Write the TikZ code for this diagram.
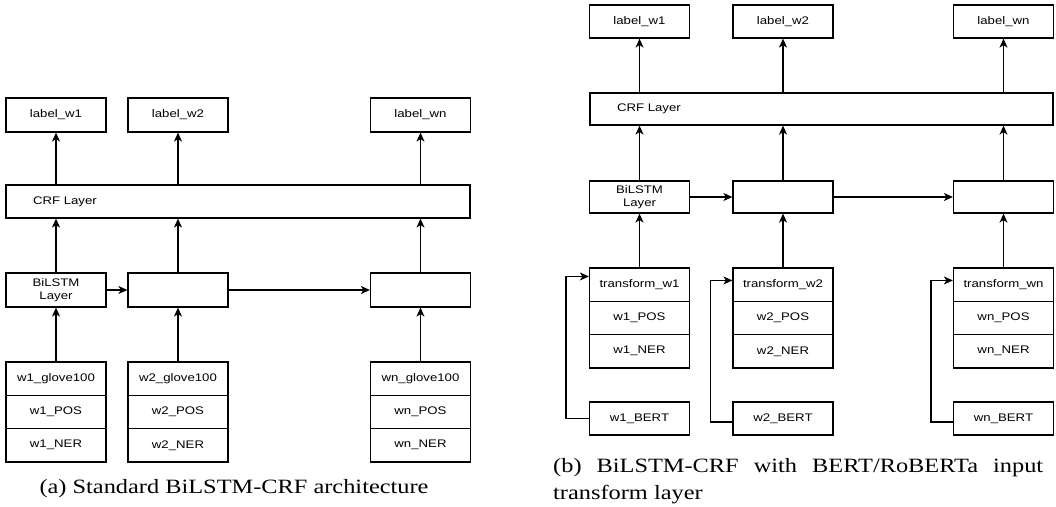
\documentclass[tikz,border=0pt]{standalone}
\usepackage{fontspec}
\usetikzlibrary{arrows.meta,calc}
\newfontfamily\boxfont{Liberation Sans}[FakeStretch=1.2]
\newfontfamily\capfont{Liberation Serif}[FakeStretch=1.2]

\tikzset{
  box/.style={draw, line width=1.2pt, minimum width=100pt, minimum height=33pt,
    inner sep=0pt, align=center, font=\boxfont\fontsize{11}{13}\selectfont},
  wide/.style={box, text width=#1, align=left, inner xsep=27pt},
  arr/.style={-{Stealth[length=9pt,width=8pt,inset=2.5pt]}, line width=1.2pt},
  caption/.style={inner sep=0pt, font=\capfont\fontsize{20.3}{27}\selectfont}
}

\begin{document}
\begin{tikzpicture}[x=1pt, y=-1pt]
\useasboundingbox (0,0) rectangle (1056,506);

% ---------- (a) standard BiLSTM-CRF ----------
\node[box, minimum height=34pt] (al1) at (56,115) {label\_w1};
\node[box, minimum height=34pt] (al2) at (178,115) {label\_w2};
\node[box, minimum height=34pt] (al3) at (420.5,115) {label\_wn};

\node[wide=410pt] (acrf) at (238,201.5) {CRF Layer};

\node[box, minimum height=34pt] (ab1) at (56,290) {BiLSTM\\Layer};
\node[box, minimum height=34pt] (ab2) at (178,290) {};
\node[box, minimum height=34pt] (ab3) at (420.5,290) {};

\node[box, minimum height=33.3pt] (ag1) at (56,378.7) {w1\_glove100};
\node[box, minimum height=33.3pt] (ap1) at (56,412) {w1\_POS};
\node[box, minimum height=33.3pt] (an1) at (56,445.3) {w1\_NER};
\node[box, minimum height=33.3pt] (ag2) at (178,378.7) {w2\_glove100};
\node[box, minimum height=33.3pt] (ap2) at (178,412) {w2\_POS};
\node[box, minimum height=33.3pt] (an2) at (178,445.3) {w2\_NER};
\node[box, minimum height=33.3pt] (ag3) at (420.5,378.7) {wn\_glove100};
\node[box, minimum height=33.3pt] (ap3) at (420.5,412) {wn\_POS};
\node[box, minimum height=33.3pt] (an3) at (420.5,445.3) {wn\_NER};

\foreach \i in {1,2,3} {
  \draw[arr] (ag\i) -- (ab\i);
  \draw[arr] (ab\i.north) -- (ab\i.north |- acrf.south);
  \draw[arr] (al\i.south |- acrf.north) -- (al\i.south);
}
\draw[arr] (ab1) -- (ab2);
\draw[arr] (ab2) -- (ab3);

\node[caption, anchor=base] (capa) at (234,493) {(a) Standard BiLSTM-CRF architecture};

% ---------- (b) BiLSTM-CRF with transformer input ----------
\node[box] (bl1) at (639.5,21.5) {label\_w1};
\node[box] (bl2) at (783,21.5) {label\_w2};
\node[box] (bl3) at (1003.5,21.5) {label\_wn};

\node[wide=409pt, minimum height=32pt] (bcrf) at (821.5,109) {CRF Layer};

\node[box, minimum height=32pt] (bb1) at (639.5,197) {BiLSTM\\Layer};
\node[box, minimum height=32pt] (bb2) at (783,197) {};
\node[box, minimum height=32pt] (bb3) at (1003.5,197) {};

\node[box, minimum height=33.3pt] (bt1) at (639.5,284.7) {transform\_w1};
\node[box, minimum height=33.3pt] (bp1) at (639.5,318) {w1\_POS};
\node[box, minimum height=33.3pt] (bn1) at (639.5,351.3) {w1\_NER};
\node[box, minimum height=33.3pt] (bt2) at (783,284.7) {transform\_w2};
\node[box, minimum height=33.3pt] (bp2) at (783,318) {w2\_POS};
\node[box, minimum height=33.3pt] (bn2) at (783,351.3) {w2\_NER};
\node[box, minimum height=33.3pt] (bt3) at (1003.5,284.7) {transform\_wn};
\node[box, minimum height=33.3pt] (bp3) at (1003.5,318) {wn\_POS};
\node[box, minimum height=33.3pt] (bn3) at (1003.5,351.3) {wn\_NER};

\node[box] (be1) at (639.5,418.5) {w1\_BERT};
\node[box] (be2) at (783,418.5) {w2\_BERT};
\node[box] (be3) at (1003.5,418.5) {wn\_BERT};

\foreach \i in {1,2,3} {
  \draw[arr] (bt\i) -- (bb\i);
  \draw[arr] (bb\i.north) -- (bb\i.north |- bcrf.south);
  \draw[arr] (bl\i.south |- bcrf.north) -- (bl\i.south);
}
\draw[arr] (bb1) -- (bb2);
\draw[arr] (bb2) -- (bb3);

% BERT embeddings routed back into the transform layer
\draw[arr] (be1.west) -- ++(-23,0) |- ($(bt1.north west)+(0,9)$);
\draw[arr] ($(be2.west)+(0,3.5)$) -- ++(-22,0) |- ($(bt2.north west)+(0,13)$);
\draw[arr] ($(be3.west)+(0,3.5)$) -- ++(-22,0) |- ($(bt3.north west)+(0,13)$);

\node[caption, anchor=base west] (capb1) at (553,472)
  {\makebox[490pt][s]{(b) BiLSTM-CRF with BERT/RoBERTa input}};
\node[caption, anchor=base west] (capb2) at (553,499) {transform layer};
\end{tikzpicture}
\end{document}
